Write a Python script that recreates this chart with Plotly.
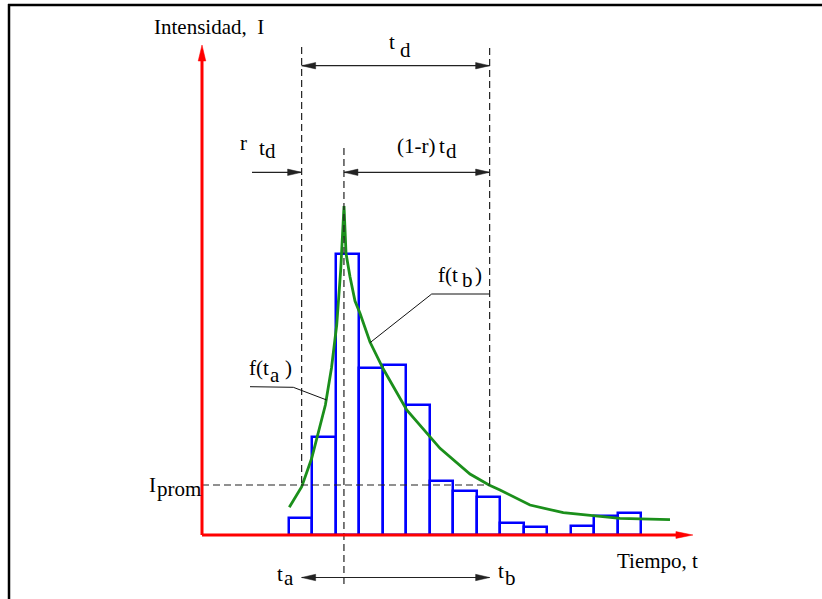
import plotly.graph_objects as go

# ---------------- data ----------------
# histogram of rainfall intensity (time unit = one bar interval)
bar_start = 3.7
bar_width = 1.0
intensity = [1.67, 9.83, 28.1, 16.73, 16.97, 13.03, 5.43, 4.43, 3.83, 1.17, 0.77, 0.0, 0.87, 1.9, 2.23]

# synthetic storm curve f(t)
curve_t = [3.715, 4.243, 4.668, 5.25, 5.51, 5.732, 5.902, 6.043,
           6.128, 6.298, 6.511, 6.723, 7.149, 7.715, 8.711, 9.277, 9.702,
           10.128, 11.404, 12.213, 12.681, 13.957, 15.374, 16.651, 17.787, 19.915]
curve_i = [2.77, 4.83, 7.67, 13.0, 16.7, 21.0, 26.5, 32.9,
           28.17, 25.83, 23.4, 22.17, 19.3, 16.6, 12.5, 11.0, 9.83,
           8.67, 6.1, 5.0, 4.5, 3.0, 2.23, 1.9, 1.67, 1.53]

t_start = 4.24      # t_peak - r*t_d
t_d = 8.0
r = 0.225
I_prom = 5.0
t_peak = t_start + r * t_d
t_end = t_start + t_d

# axis extents (data units)
x_axis_end = 20.89
y_axis_end = 49.0

# ---------------- scale (px per unit) ----------------
PX_T = 23.5
PX_I = 10.0
W, H = 822, 599
x_range = [-202 / PX_T, (W - 202) / PX_T]
y_range = [(535 - H) / PX_I, 535 / PX_I]

FONT = "Liberation Serif, Times New Roman, Times, DejaVu Serif, serif"
FS = 21
DIM = "#222222"
DASH = "#222222"

fig = go.Figure()

centers = [bar_start + bar_width * (k + 0.5) for k in range(len(intensity))]
fig.add_trace(go.Bar(x=centers, y=intensity, width=bar_width,
                     marker=dict(color="rgba(0,0,0,0)", line=dict(color="#0000ff", width=2.5)),
                     hoverinfo="skip"))
fig.add_trace(go.Scatter(x=curve_t, y=curve_i, mode="lines",
                         line=dict(color="#1b8f1b", width=2.8), hoverinfo="skip"))

shapes = []


def line(x0, y0, x1, y1, color=DIM, width=1.2, dash=None):
    d = dict(type="line", xref="x", yref="y", x0=x0, y0=y0, x1=x1, y1=y1,
             line=dict(color=color, width=width))
    if dash:
        d["line"]["dash"] = dash
    shapes.append(d)


def hhead(t, I, s, L=14, Wd=3.2, color=DIM):
    # horizontal arrowhead, tip at (t, I), s=+1 points right, -1 points left
    bt = t - s * L / PX_T
    p = f"M {t},{I} L {bt},{I + Wd / PX_I} L {bt},{I - Wd / PX_I} Z"
    shapes.append(dict(type="path", xref="x", yref="y", path=p,
                       fillcolor=color, line=dict(color=color, width=0.5)))


def vhead(t, I, L=16, Wd=3.6, color=DIM):
    bI = I - L / PX_I
    p = f"M {t},{I} L {t - Wd / PX_T},{bI} L {t + Wd / PX_T},{bI} Z"
    shapes.append(dict(type="path", xref="x", yref="y", path=p,
                       fillcolor=color, line=dict(color=color, width=0.5)))


dash_pat = "7px,4px"
# dashed reference lines
line(t_start, 48.8, t_start, I_prom, DASH, 1.2, dash_pat)
line(t_end, 48.7, t_end, I_prom, DASH, 1.2, dash_pat)
line(t_peak, 38.7, t_peak, -5.0, DASH, 1.2, dash_pat)
line(0, I_prom, t_end, I_prom, DASH, 1.2, dash_pat)

# dimension: t_d
yd = 46.93
line(t_start, yd, t_end, yd)
hhead(t_start, yd, -1)
hhead(t_end, yd, +1)
# dimension: r t_d and (1-r) t_d
yr = 36.27
line(2.128, yr, t_start, yr)
hhead(t_start, yr, +1)
line(t_peak, yr, t_end, yr)
hhead(t_peak, yr, -1)
hhead(t_end, yr, +1)
# bottom: t_a <-> t_b
yb = -4.25
line(t_start, yb, t_end, yb)
hhead(t_start, yb, -1)
hhead(t_end, yb, +1)

# leader lines
shapes.append(dict(type="path", xref="x", yref="y",
                   path="M 2.043,14.83 L 3.885,14.77 L 5.306,13.5",
                   line=dict(color="#111111", width=1)))
shapes.append(dict(type="path", xref="x", yref="y",
                   path="M 12.226,24.1 L 9.774,24.1 L 7.149,19.23",
                   line=dict(color="#111111", width=1)))

# red axes
RED = "#ff0000"
line(0, 0, 0, y_axis_end - 1.2, RED, 3)
vhead(0, y_axis_end, 16, 3.8, RED)
line(0, 0, x_axis_end - 0.5, 0, RED, 3)
hhead(x_axis_end, 0, +1, 17, 3.4, RED)

# outer frame (top and left)
shapes.append(dict(type="line", xref="paper", yref="paper", x0=8 / W, x1=1, y0=1 - 5 / H, y1=1 - 5 / H,
                   line=dict(color="black", width=2.5)))
shapes.append(dict(type="line", xref="paper", yref="paper", x0=9 / W, x1=9 / W, y0=1 - 4 / H, y1=0,
                   line=dict(color="black", width=2.5)))

# ---------------- labels: (text, left t, baseline I) ----------------
labels = [
    ("Intensidad,  I", -2.128, 50.07),
    ("t", 7.88, 48.57), ("d", 8.32, 47.77),
    ("r", 1.55, 38.5), ("t", 2.36, 38.0), ("d", 2.6, 37.67),
    ("(1-r)", 8.2, 38.17), ("t", 10.0, 38.17), ("d", 10.28, 37.67),
    ("f(t", 9.97, 25.33), ("b", 10.96, 24.77), (")", 11.53, 25.33),
    ("f(t", 1.91, 16.0), ("a", 2.81, 15.27), (")", 3.45, 16.0),
    ("I", -2.36, 4.33), ("prom", -2.0, 3.9),
    ("t", 3.09, -4.57), ("a", 3.4, -5.0),
    ("t", 12.52, -4.33), ("b", 12.8, -5.0),
    ("Tiempo, t", 17.56, -3.33),
]
BASE_OFF = 0.71  # baseline -> box middle (data units)
annotations = []
for txt, tx, ib in labels:
    annotations.append(dict(text=txt, x=tx, y=ib + BASE_OFF, xref="x", yref="y",
                            xanchor="left", yanchor="middle", showarrow=False,
                            font=dict(family=FONT, size=FS, color="black")))

fig.update_layout(
    width=W, height=H, margin=dict(l=0, r=0, t=0, b=0),
    paper_bgcolor="white", plot_bgcolor="white",
    showlegend=False, bargap=0,
    font=dict(family=FONT),
    xaxis=dict(range=x_range, visible=False, fixedrange=True),
    yaxis=dict(range=y_range, visible=False, fixedrange=True),
    shapes=shapes, annotations=annotations,
)

fig.write_html("out.html")
